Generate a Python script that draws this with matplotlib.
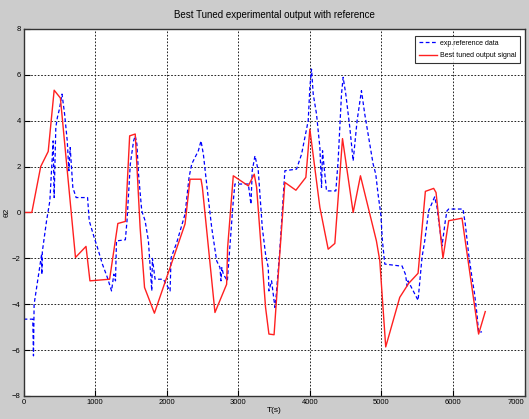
import matplotlib
matplotlib.use("Agg")
import matplotlib.pyplot as plt
import numpy as np

# ---- data ----
red_t = [0, 115, 239, 344, 427, 514, 725, 872, 927, 1202, 1317, 1422, 1482, 1560, 1628, 1690,
         1828, 2256, 2326, 2479, 2498, 2674, 2837, 2851, 2930, 3140, 3223, 3256, 3381, 3428,
         3500, 3526, 3651, 3805, 3944, 4000, 4140, 4256, 4349, 4456, 4605, 4707, 4930, 4977,
         5060, 5256, 5381, 5512, 5614, 5730, 5763, 5860, 5940, 6126, 6358, 6451]
red_y = [0, 0, 2.0, 2.66, 5.33, 4.99, -1.96, -1.48, -2.98, -2.91, -0.48, -0.39, 3.34, 3.42, -0.65, -3.27,
         -4.39, -0.5, 1.45, 1.45, 1.1, -4.36, -3.13, -1.53, 1.6, 1.16, 1.67, 1.1, -4.14, -5.3,
         -5.33, -4.14, 1.31, 0.97, 1.53, 3.63, 0.22, -1.6, -1.35, 3.22, 0.0, 1.6, -1.24, -2.1,
         -5.86, -3.7, -3.09, -2.65, 0.92, 1.05, 0.87, -1.99, -0.36, -0.25, -5.3, -4.32]

blue_t = [0, 128, 138, 147, 252, 255, 262, 321, 367, 413, 427, 450, 472, 500, 537, 573, 610, 633,
          651, 688, 734, 894, 917, 986, 1032, 1101, 1170, 1229, 1261, 1284, 1298, 1422, 1445, 1491,
          1537, 1560, 1583, 1606, 1651, 1698, 1744, 1791, 1800, 1837, 1953, 2047, 2060, 2140, 2256,
          2312, 2349, 2442, 2479, 2512, 2558, 2628, 2698, 2744, 2758, 2770, 2791, 2847, 2898, 2930,
          2953, 3140, 3177, 3195, 3233, 3279, 3302, 3335, 3381, 3419, 3428, 3465, 3512, 3530, 3581,
          3651, 3814, 3884, 3930, 3977, 4000, 4023, 4047, 4093, 4140, 4163, 4177, 4195, 4233, 4363,
          4395, 4419, 4442, 4465, 4502, 4558, 4605, 4628, 4660, 4721, 4767, 4837, 4884, 4921, 4953,
          4991, 5014, 5047, 5256, 5288, 5335, 5360, 5372, 5512, 5567, 5605, 5660, 5744, 5777, 5800,
          5847, 5893, 5916, 5940, 6140, 6172, 6219, 6265, 6302, 6335, 6358, 6405]
blue_y = [-4.65, -4.65, -6.25, -4.0, -1.82, -2.7, -1.7, -0.36, 0.51, 3.12, 0.65, 3.7, 4.14, 4.5, 5.16, 4.29, 3.12, 1.82,
          2.83, 1.09, 0.65, 0.65, -0.36, -1.09, -1.53, -2.25, -2.83, -3.42, -2.69, -2.98, -1.24, -1.19, -0.36, 2.11,
          3.12, 3.34, 2.98, 1.67, 0.07, -0.36, -1.24, -3.42, -2.0, -2.91, -2.91, -3.42, -1.98, -1.31, -0.07,
          1.53, 2.11, 2.69, 3.12, 2.54, 1.24, -0.65, -2.11, -2.4, -2.98, -2.4, -2.69, -2.98, -0.8, 0.51,
          1.24, 1.24, 0.36, 1.82, 2.47, 1.82, 0.8, -0.65, -1.82, -2.4, -3.42, -2.98, -4.14, -3.6, -1.6,
          1.82, 1.89, 2.54, 3.27, 4.0, 5.45, 6.25, 5.16, 4.29, 2.83, 1.09, 2.69, 2.11, 0.94, 0.94,
          2.25, 3.71, 5.16, 5.89, 5.16, 3.71, 2.25, 2.98, 4.0, 5.31, 4.29, 2.98, 2.11, 1.67, 0.8,
          -0.07, -1.24, -2.25, -2.33, -2.33, -2.69, -3.2, -2.98, -3.83, -1.96, -1.24, 0.07, 0.68, 0.22, -0.36,
          -1.45, -0.36, 0.07, 0.15, 0.15, -0.51, -1.82, -2.83, -3.56, -4.43, -5.23, -5.2]

x_ticks = [0, 1000, 2000, 3000, 4000, 5000, 6000, 7000]
x_ticklabels = ["0", "1000", "2000", "3000", "4000", "5000", "6000", "7000"]
y_ticks = [-8, -6, -4, -2, 0, 2, 4, 6, 8]

title = "Best Tuned experimental output with reference"
xlabel = "T(s)"
ylabel = "θ2"
legend_labels = ["exp.reference data", "Best tuned output signal"]

plt.rcParams['font.family'] = ['Liberation Sans Narrow', 'Liberation Sans', 'DejaVu Sans']

fig = plt.figure(figsize=(5.29, 4.19), dpi=100, facecolor='#cccccc')
ax = fig.add_axes([0.0446, 0.0549, 0.947, 0.876])
ax.set_facecolor('white')

ax.plot(blue_t, blue_y, color='#0000ff', linestyle=(0, (3, 2)), linewidth=0.9, label=legend_labels[0])
ax.plot(red_t, red_y, color='#ff2020', linestyle='-', linewidth=1.0, label=legend_labels[1])

ax.set_xlim(0, 7000)
ax.set_ylim(-8, 8)
ax.set_xticks(x_ticks)
ax.set_xticklabels(x_ticklabels)
ax.set_yticks(y_ticks)
ax.tick_params(direction='in', length=4, width=0.8, labelsize=5.5, pad=2, colors='black')
ax.get_xticklabels()[-1].set_horizontalalignment('right')
ax.grid(True, color='black', linestyle=(0, (2, 2)), linewidth=0.6)
for s in ax.spines.values():
    s.set_color('#333333')
    s.set_linewidth(1.0)

ax.set_title(title, fontsize=7, pad=8)
ax.set_xlabel(xlabel, fontsize=6, labelpad=1)
ax.set_ylabel(ylabel, fontsize=6, labelpad=1)

leg = ax.legend(loc='upper right', fontsize=5, frameon=True, fancybox=False,
                edgecolor='black', handlelength=2.6, borderpad=0.5, labelspacing=0.8,
                handletextpad=0.4, bbox_to_anchor=(0.997, 0.99))
leg.get_frame().set_linewidth(0.8)

fig.savefig("out.png", dpi=100, facecolor=fig.get_facecolor())
